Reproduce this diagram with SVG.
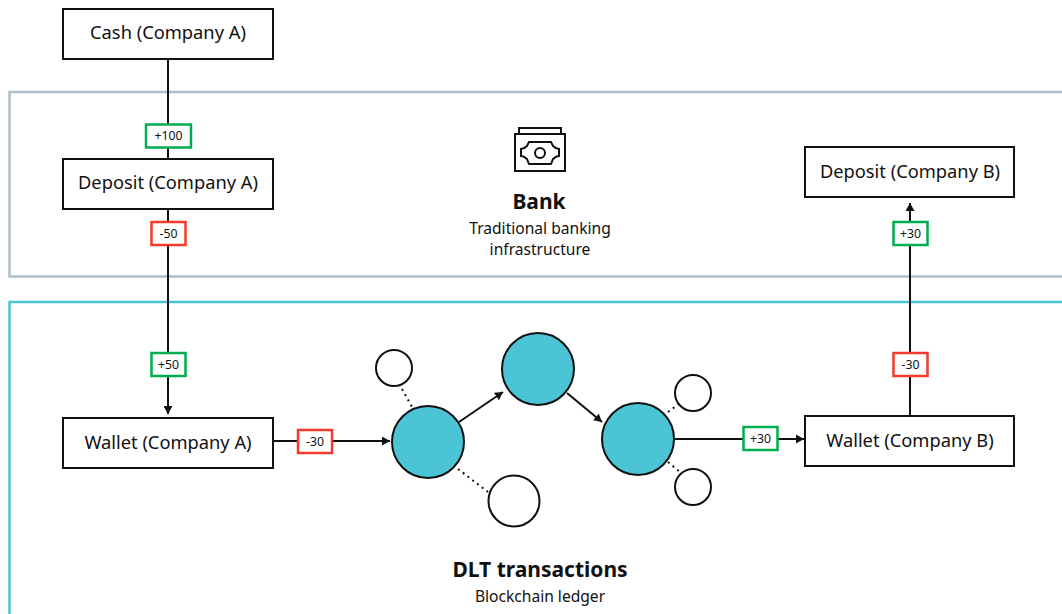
<svg xmlns="http://www.w3.org/2000/svg" width="1062" height="614" viewBox="0 0 1062 614">
<style>
text{font-family:"Noto Sans","Open Sans",sans-serif;fill:#111;text-anchor:middle}
.n{fill:#fff;stroke:#111;stroke-width:2}
.t{font-size:18.300px}
.s{font-size:15.600px}
.b{font-size:21px;font-weight:700}
.l{font-size:12.300px}
.g{fill:#fff;stroke:#00ad4f;stroke-width:2.500}
.r{fill:#fff;stroke:#f43a2b;stroke-width:2.500}
.c{fill:#4bc5d6;stroke:#111;stroke-width:2}
.w{fill:#fff;stroke:#111;stroke-width:2}
.e{fill:none;stroke:#111;stroke-width:2}
.d{fill:none;stroke:#111;stroke-width:2;stroke-dasharray:2 4}
</style>
<defs><marker id="a" markerUnits="userSpaceOnUse" markerWidth="9" markerHeight="9" refX="8" refY="4.500" orient="auto"><path d="M0 0L8 4.500L0 9Z" fill="#111"/></marker></defs>
<g id="region-bank"><path d="M1062 92H9.500V276.500H1062" fill="none" stroke="#adc0c7" stroke-width="2.500"/></g>
<g id="region-dlt"><path d="M1062 302H9.500V614" fill="none" stroke="#4bc5d6" stroke-width="2.500"/></g>
<g id="connectors">
<path class="e" d="M168 59V159"/>
<path class="e" d="M168 209V414" marker-end="url(#a)"/>
<path class="e" d="M273 441H390" marker-end="url(#a)"/>
<path class="e" d="M459 422L503 392" marker-end="url(#a)"/>
<path class="e" d="M567 393L602 422" marker-end="url(#a)"/>
<path class="e" d="M675 439H804" marker-end="url(#a)"/>
<path class="e" d="M910 415V203" marker-end="url(#a)"/>
<path class="d" d="M402 389L412 407"/>
<path class="d" d="M458 469L488 492"/>
<path class="d" d="M668 412L680 403"/>
<path class="d" d="M668 462L680 472"/>
</g>
<g id="cash"><rect class="n" x="63" y="9" width="210" height="50"/><text class="t" x="168" y="39">Cash (Company A)</text></g>
<g id="deposit-a"><rect class="n" x="63" y="159" width="210" height="50"/><text class="t" x="168" y="189">Deposit (Company A)</text></g>
<g id="wallet-a"><rect class="n" x="63" y="418" width="210" height="50"/><text class="t" x="168" y="449">Wallet (Company A)</text></g>
<g id="deposit-b"><rect class="n" x="805" y="147" width="209" height="50"/><text class="t" x="910" y="178">Deposit (Company B)</text></g>
<g id="wallet-b"><rect class="n" x="805" y="416" width="209" height="50"/><text class="t" x="910" y="447">Wallet (Company B)</text></g>
<g id="bank"><path class="e" d="M519 133V128H561V133"/><rect class="e" x="515" y="134" width="50" height="37"/><path class="e" d="M529 142H551L553 146Q556 149 559 149V156Q556 156 553 159L551 164H529L527 159Q524 156 521 156V149Q524 149 527 146Z"/><circle class="e" cx="540" cy="153" r="5"/><text class="b" x="539" y="209">Bank</text><text class="s" x="540" y="234">Traditional banking</text><text class="s" x="540" y="255">infrastructure</text></g>
<g id="dlt"><text class="b" x="540" y="577">DLT transactions</text><text class="s" x="540" y="602">Blockchain ledger</text></g>
<g id="node-1"><circle class="c" cx="428" cy="442" r="36"/></g>
<g id="node-2"><circle class="c" cx="538" cy="369" r="36"/></g>
<g id="node-3"><circle class="c" cx="638" cy="439" r="36"/></g>
<g id="leaf-1"><circle class="w" cx="394" cy="368" r="18"/></g>
<g id="leaf-2"><circle class="w" cx="514" cy="501" r="25.500"/></g>
<g id="leaf-3"><circle class="w" cx="693" cy="393" r="18"/></g>
<g id="leaf-4"><circle class="w" cx="693" cy="487" r="18"/></g>
<g id="label-100"><rect class="g" x="146" y="124.500" width="45" height="23"/><text class="l" x="168.500" y="140">+100</text></g>
<g id="label-m50"><rect class="r" x="151.500" y="222" width="34" height="23"/><text class="l" x="168.500" y="238">-50</text></g>
<g id="label-p50"><rect class="g" x="151.500" y="353" width="34" height="23"/><text class="l" x="168.500" y="369">+50</text></g>
<g id="label-m30a"><rect class="r" x="298" y="430" width="34" height="23"/><text class="l" x="315" y="446">-30</text></g>
<g id="label-p30a"><rect class="g" x="743.500" y="427" width="34" height="23"/><text class="l" x="760.500" y="443">+30</text></g>
<g id="label-m30b"><rect class="r" x="893.500" y="353" width="34" height="23"/><text class="l" x="910.500" y="369">-30</text></g>
<g id="label-p30b"><rect class="g" x="893.500" y="222" width="34" height="23"/><text class="l" x="910.500" y="238">+30</text></g>
</svg>
